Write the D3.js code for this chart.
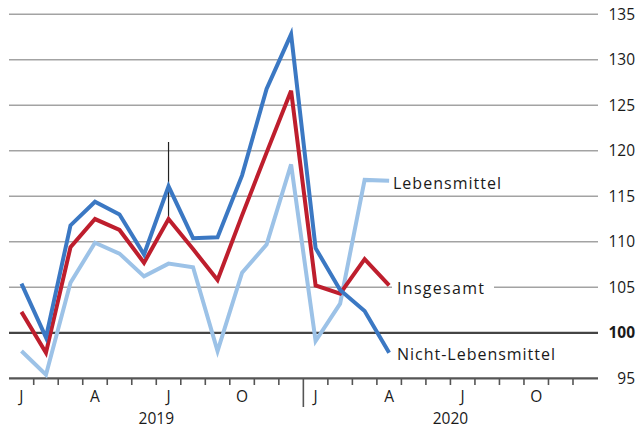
<!DOCTYPE html>
<html>
<head>
<meta charset="utf-8">
<script src="https://cdn.jsdelivr.net/npm/d3@7"></script>
<style>
  body { margin: 0; background: #fff; }
  text { font-family: "Open Sans", "Noto Sans", sans-serif; fill: #1a1a1a; }
</style>
</head>
<body>
<div id="chart"></div>
<script>
// monate jan 2019 - dez 2020
const months = d3.range(24)
const monthLabels = ["J", "", "", "A", "", "", "J", "", "", "O", "", "", "J", "", "", "A", "", "", "J", "", "", "O", "", ""]
const years = ["2019", "2020"]
const yTicks = [95, 100, 105, 110, 115, 120, 125, 130, 135]

// werte jan 2019 - apr 2020
const nichtLebensmittel = [105.4, 99.5, 111.8, 114.4, 113.0, 108.6, 116.1, 110.4, 110.5, 117.3, 126.8, 132.8, 109.3, 104.7, 102.4, 97.8]
const insgesamt = [102.3, 97.8, 109.4, 112.5, 111.3, 107.7, 112.5, 109.2, 105.8, 112.9, 119.8, 126.6, 105.2, 104.3, 108.1, 105.2]
const lebensmittel = [98.0, 95.4, 105.5, 109.9, 108.7, 106.2, 107.6, 107.2, 98.0, 106.6, 109.7, 118.5, 99.1, 103.2, 116.8, 116.7]

const W = 639, H = 431

const svg = d3.select("#chart").append("svg")
  .attr("width", W)
  .attr("height", H)

const x = d3.scaleBand()
  .domain(months)
  .range([9.2, 597.5])

const y = d3.scaleLinear()
  .domain([95, 135])
  .range([378.3, 14.3])

const cx = i => x(i) + x.bandwidth() / 2

// gitterlinien
svg.append("g")
  .selectAll("line")
  .data(yTicks.filter(d => d !== 95))
  .join("line")
    .attr("x1", 9)
    .attr("x2", 598)
    .attr("y1", d => y(d))
    .attr("y2", d => y(d))
    .attr("stroke", d => d === 100 ? "#444" : "#a3a3a3")
    .attr("stroke-width", d => d === 100 ? 2.2 : 1.6)

// y-achse rechts
svg.append("g")
  .selectAll("text")
  .data(yTicks)
  .join("text")
    .attr("x", 635)
    .attr("y", d => y(d))
    .attr("dy", "0.35em")
    .attr("text-anchor", "end")
    .attr("font-size", "15.5px")
    .attr("font-weight", d => d === 100 ? "bold" : "normal")
    .text(d => d)

// x-achse
const xAxis = svg.append("g")
svg.append("line")
  .attr("x1", 9).attr("x2", 598)
  .attr("y1", y(95)).attr("y2", y(95))
  .attr("stroke", "#555")
  .attr("stroke-width", 2.2)

xAxis.selectAll("line")
  .data(months.slice(1))
  .join("line")
    .attr("x1", d => x(d))
    .attr("x2", d => x(d))
    .attr("y1", y(95))
    .attr("y2", d => d === 12 ? 407 : 385)
    .attr("stroke", "#555")
    .attr("stroke-width", 1.6)

xAxis.selectAll("text")
  .data(months)
  .join("text")
    .attr("x", d => cx(d))
    .attr("y", 397)
    .attr("dy", "0.35em")
    .attr("text-anchor", "middle")
    .attr("font-size", "15.5px")
    .text(d => monthLabels[d])

svg.append("g")
  .selectAll("text")
  .data(years)
  .join("text")
    .attr("x", (d, i) => x(i * 12 + 6))
    .attr("y", 419)
    .attr("dy", "0.35em")
    .attr("text-anchor", "middle")
    .attr("font-size", "15.5px")
    .text(d => d)

// senkrechte markierung juli 2019
svg.append("line")
  .attr("x1", cx(6)).attr("x2", cx(6))
  .attr("y1", 142).attr("y2", y(insgesamt[6]))
  .attr("stroke", "#222")
  .attr("stroke-width", 1.2)

// linien
const line = d3.line()
  .x((d, i) => cx(i))
  .y(d => y(d))

const series = [
  { values: lebensmittel, color: "#9cc2e7" },
  { values: insgesamt, color: "#be1e2d" },
  { values: nichtLebensmittel, color: "#3b78c3" }
]

svg.append("g")
  .selectAll("path")
  .data(series)
  .join("path")
    .attr("d", d => line(d.values))
    .attr("fill", "none")
    .attr("stroke", d => d.color)
    .attr("stroke-width", 4)
    .attr("stroke-linejoin", "miter")

// beschriftungen
const labels = [
  { text: "Lebensmittel", x: 393, y: 183, w: 108 },
  { text: "Insgesamt", x: 397, y: 288, w: 87 },
  { text: "Nicht-Lebensmittel", x: 397, y: 354, w: 158 }
]

const lab = svg.append("g")
lab.selectAll("rect")
  .data(labels.filter(d => d.text === "Insgesamt"))
  .join("rect")
    .attr("x", 392)
    .attr("y", d => d.y - 6)
    .attr("width", 102)
    .attr("height", 12)
    .attr("fill", "#fff")

lab.selectAll("text")
  .data(labels)
  .join("text")
    .attr("x", d => d.x)
    .attr("y", d => d.y)
    .attr("dy", "0.35em")
    .attr("font-size", "16px")
    .attr("textLength", d => d.w)
    .attr("lengthAdjust", "spacing")
    .text(d => d.text)
</script>
</body>
</html>
